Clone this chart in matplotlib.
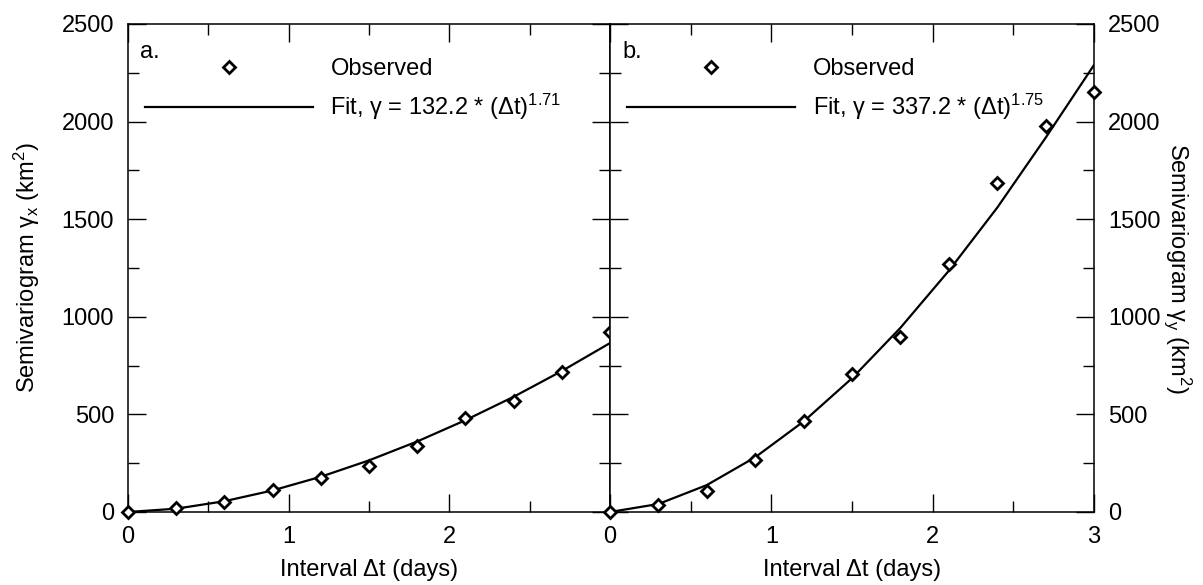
import matplotlib
matplotlib.use('Agg')
import matplotlib.pyplot as plt
from matplotlib.ticker import MultipleLocator
from matplotlib.lines import Line2D

plt.rcParams['font.family'] = ['Liberation Sans', 'DejaVu Sans']
plt.rcParams['mathtext.fontset'] = 'custom'
plt.rcParams['mathtext.rm'] = 'Liberation Sans'
plt.rcParams['mathtext.it'] = 'Liberation Sans:italic'

# Данные: интервал (дни) и семивариограммы
dt = [0.0, 0.3, 0.6, 0.9, 1.2, 1.5, 1.8, 2.1, 2.4, 2.7, 3.0]

obs_x = [0, 18, 50, 112, 176, 236, 340, 480, 570, 719, 922]
fit_x = [0, 16.9, 55.2, 110.4, 180.6, 264.4, 361.3, 470.3, 590.2, 722.2, 865.5]

obs_y = [0, 38, 110, 268, 468, 705, 896, 1268, 1683, 1978, 2150]
fit_y = [0, 41.0, 137.9, 280.5, 463.9, 685.2, 943.5, 1235.8, 1559.0, 1917.0, 2290.0]

labels_fit = ['Fit, γ = 132.2 * (Δt)$^{\\mathregular{1.71}}$',
              'Fit, γ = 337.2 * (Δt)$^{\\mathregular{1.75}}$']
panel_names = ['a.', 'b.']

FS = 17

fig = plt.figure(figsize=(12.03, 5.85), dpi=100)
ax_a = fig.add_axes([0.1064, 0.1248, 0.4007, 0.8342])
ax_b = fig.add_axes([0.5071, 0.1248, 0.4023, 0.8342])

panels = [(ax_a, obs_x, fit_x), (ax_b, obs_y, fit_y)]

for i, (ax, obs, fit) in enumerate(panels):
    ax.plot(dt, fit, color='black', lw=1.6)
    ax.plot(dt, obs, linestyle='none', marker='D', markersize=6.5,
            markerfacecolor='white', markeredgecolor='black',
            markeredgewidth=2.0, clip_on=False, zorder=5)
    ax.set_xlim(0, 3)
    ax.set_ylim(0, 2500)
    ax.xaxis.set_major_locator(MultipleLocator(1))
    ax.xaxis.set_minor_locator(MultipleLocator(0.5))
    ax.yaxis.set_major_locator(MultipleLocator(500))
    ax.yaxis.set_minor_locator(MultipleLocator(250))
    ax.tick_params(which='both', direction='in', top=True, right=True,
                   labelsize=FS, width=1)
    ax.tick_params(which='major', length=13)
    ax.tick_params(which='minor', length=8)
    ax.tick_params(axis='x', pad=10)
    ax.tick_params(axis='y', pad=10)
    for s in ax.spines.values():
        s.set_linewidth(1.1)
    ax.set_xlabel('Interval Δt (days)', fontsize=FS, labelpad=8)

    ax.text(0.025, 0.965, panel_names[i], transform=ax.transAxes,
            fontsize=FS, va='top', ha='left')

    handles = [Line2D([], [], linestyle='none', marker='D', markersize=6.5,
                      markerfacecolor='white', markeredgecolor='black',
                      markeredgewidth=2.0),
               Line2D([], [], color='black', lw=1.6)]
    ax.legend(handles, ['Observed', labels_fit[i]], loc='upper left',
              bbox_to_anchor=(0.035, 0.93), frameon=False, fontsize=FS,
              handlelength=7.1, handletextpad=0.76, labelspacing=0.5,
              borderpad=0, borderaxespad=0)

ax_a.set_xticks([0, 1, 2])
ax_a.set_ylabel('Semivariogram γ$_{\\mathregular{x}}$ (km$^{\\mathregular{2}}$)',
                fontsize=FS, labelpad=14)

ax_b.tick_params(axis='y', labelleft=False, labelright=True)
ax_b.yaxis.set_label_position('right')
ax_b.set_ylabel('Semivariogram γ$_{\\mathregular{y}}$ (km$^{\\mathregular{2}}$)',
                fontsize=FS, rotation=270, labelpad=24)

fig.savefig('out.png', dpi=100)
